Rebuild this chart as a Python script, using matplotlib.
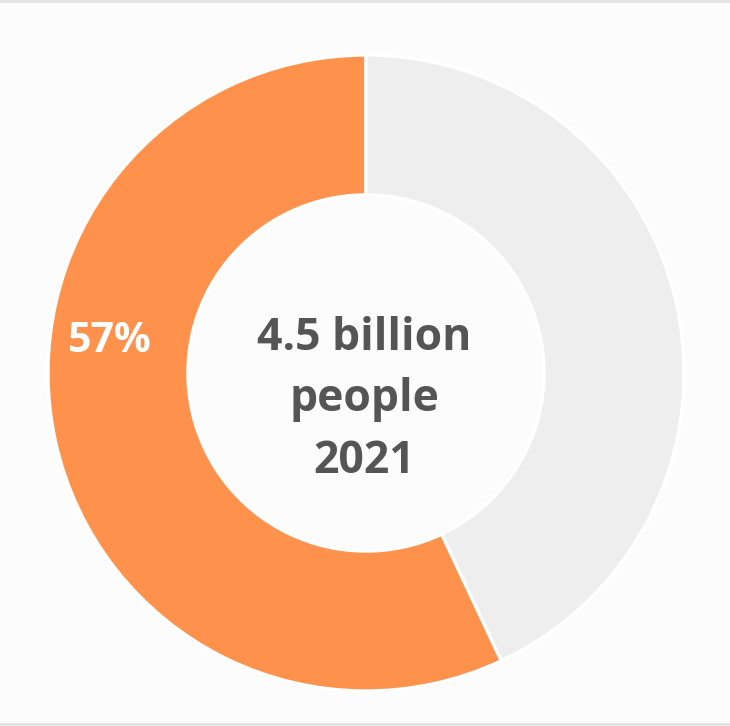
import matplotlib
matplotlib.use("Agg")
import matplotlib.pyplot as plt
from matplotlib.patches import Rectangle

# Share of the world population, 2021
labels = ["Share", "Rest"]
values = [57, 43]
center_lines = ["4.5 billion", "people", "2021"]

colors = ["#FE924C", "#EEEEEE"]
bg = "#FCFCFC"
text_dark = "#555555"

W, H, DPI = 730, 726, 100
fig = plt.figure(figsize=(W / DPI, H / DPI), dpi=DPI, facecolor=bg)

# thin grey bands framing the panel
fig.patches.append(Rectangle((0, 1 - 3 / H), 1, 3 / H, transform=fig.transFigure,
                             facecolor="#E3E3E3", edgecolor="none"))
fig.patches.append(Rectangle((0, 0), 1, 3 / H, transform=fig.transFigure,
                             facecolor="#E3E3E3", edgecolor="none"))

cx, cy, R = 366, 373, 318
ax = fig.add_axes([(cx - R) / W, (H - cy - R) / H, 2 * R / W, 2 * R / H])
ax.set_facecolor("none")

wedges, _ = ax.pie(values, colors=colors, startangle=90, counterclock=True,
                   radius=1.0,
                   wedgeprops=dict(width=0.44, edgecolor="white", linewidth=2.4))
ax.set_xlim(-1, 1)
ax.set_ylim(-1, 1)
ax.set_aspect("equal")
ax.axis("off")

font = ["Open Sans", "DejaVu Sans"]

# percentage label on the orange ring
ax.text(-0.805, 0.066, f"{values[0]}%", ha="center", va="baseline",
        color="white", fontsize=29.5, fontweight="bold", family=font)

# centre caption
line_y = [0.0723, -0.1195, -0.3145]
for txt, y in zip(center_lines, line_y):
    ax.text(-0.006, y, txt, ha="center", va="baseline", color=text_dark,
            fontsize=32, fontweight="bold", family=font)

fig.savefig("out.png", dpi=DPI, facecolor=bg)
